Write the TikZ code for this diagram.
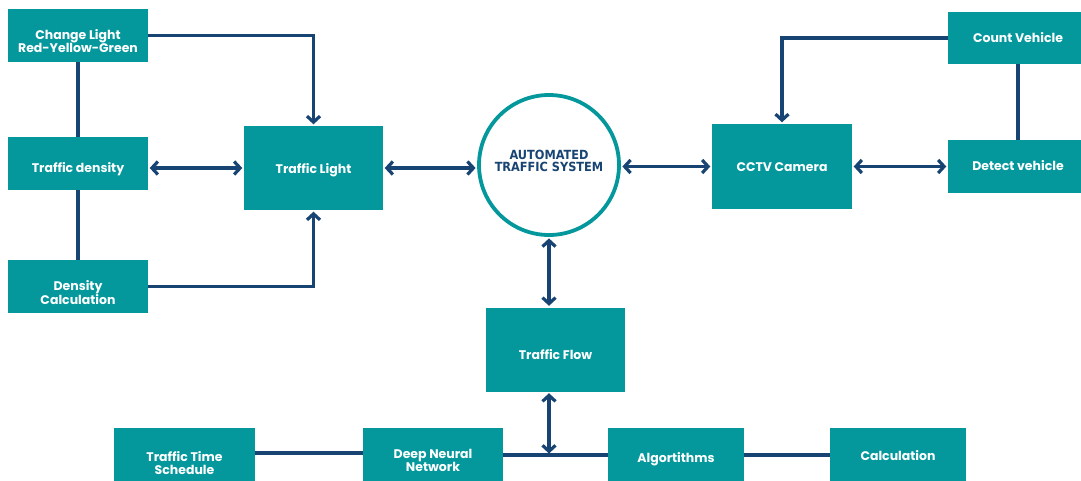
\documentclass[tikz,border=0pt]{standalone}
\usepackage{fontspec}
\setmainfont{Poppins}
\newfontfamily\sysfont{DejaVu Sans Condensed}
\usetikzlibrary{arrows.meta}
\definecolor{boxteal}{HTML}{04989D}
\definecolor{linknavy}{HTML}{184473}
% centred lines of text, lowered by #1 without changing the box size
\newcommand{\boxlines}[2]{\raisebox{-#1}[\height][\depth]{\begin{tabular}{@{}c@{}}#2\end{tabular}}}
\begin{document}
\begin{tikzpicture}[x=1pt,y=-1pt,
  >={Straight Barb[length=6pt, width=13pt, line width=3.2pt]},
  box/.style={fill=boxteal, draw=none, text=white, align=center, inner sep=0pt,
    font=\bfseries\fontsize{12.5}{12.8}\selectfont},
  sysnode/.style={circle, draw=boxteal, line width=3.8pt, fill=white, inner sep=0pt,
    minimum size=140pt, text=linknavy, align=center,
    font=\sysfont\bfseries\fontsize{12.6}{13}\selectfont},
  link/.style={draw=linknavy, line width=3.4pt},
  onearrow/.style={link, ->, shorten >=1.5pt},
  twoarrow/.style={link, <->, shorten >=1.5pt, shorten <=1.5pt}]
\useasboundingbox (0,0) rectangle (1081,480);
\clip (0,0) rectangle (1081,480);

% left column
\node[box, minimum width=140pt, minimum height=53pt] (cl) at (78,35.5)
  {\boxlines{7pt}{Change Light\\Red-Yellow-Green}};
\node[box, minimum width=140pt, minimum height=53pt] (td) at (78,163.5)
  {\boxlines{6pt}{Traffic density}};
\node[box, minimum width=140pt, minimum height=53pt] (dc) at (78,286.5)
  {\boxlines{7.5pt}{Density\\Calculation}};
\node[box, minimum width=139pt, minimum height=84pt] (tl) at (313.5,168)
  {\boxlines{2pt}{Traffic Light}};

% centre
\node[sysnode] (sys) at (549,165)
  {\raisebox{2pt}[\height][\depth]{\begin{tabular}{@{}c@{}}AUTOMATED\\[-1.5pt]TRAFFIC SYSTEM\end{tabular}}};
\node[box, minimum width=139pt, minimum height=84pt] (tf) at (555.5,349.5)
  {\boxlines{7pt}{Traffic Flow}};

% right side
\node[box, minimum width=140pt, minimum height=85pt] (cctv) at (782,166.5)
  {\boxlines{2pt}{CCTV Camera}};
\node[box, minimum width=140pt, minimum height=52pt] (cv) at (1018,38) {Count Vehicle};
\node[box, minimum width=140pt, minimum height=53pt] (dv) at (1018,166.5)
  {\boxlines{1pt}{Detect vehicle}};

% bottom row
\node[box, minimum width=141pt, minimum height=56pt] (tts) at (184.5,456)
  {\boxlines{9pt}{Traffic Time\\Schedule}};
\node[box, minimum width=140pt, minimum height=56pt] (dnn) at (433,456)
  {\boxlines{6pt}{Deep Neural\\Network}};
\node[box, minimum width=136pt, minimum height=56pt] (alg) at (676,456)
  {\boxlines{3pt}{Algortithms}};
\node[box, minimum width=136pt, minimum height=56pt] (calc) at (898,456) {Calculation};

\coordinate (bus) at (549,455);

% connectors: left column
\draw[link] (cl) -- (td);
\draw[link] (td) -- (dc);
\draw[onearrow] (cl.east) -| (tl.north);
\draw[onearrow] (dc.east) -| (tl.south);
\draw[twoarrow] (td.east |- tl.west) -- (tl.west);
\draw[twoarrow] (tl.east) -- (tl.east -| sys.west);

% connectors: right side
\draw[twoarrow] (cctv.west -| sys.east) -- (cctv.west);
\draw[twoarrow] (cctv.east) -- (dv.west);
\draw[link] (cv) -- (dv);
\draw[onearrow] (cv.west) -| (cctv.north);

% connectors: centre and bottom row
\draw[twoarrow] (sys.south) -- (sys.south |- tf.north);
\draw[twoarrow] (bus |- tf.south) -- (bus);
\draw[link] (dnn.east |- bus) -- (alg.west |- bus);
\draw[link] (tts.east |- 0,453) -- (dnn.west |- 0,453);
\draw[link] (alg.east |- bus) -- (calc.west |- bus);
\end{tikzpicture}
\end{document}
